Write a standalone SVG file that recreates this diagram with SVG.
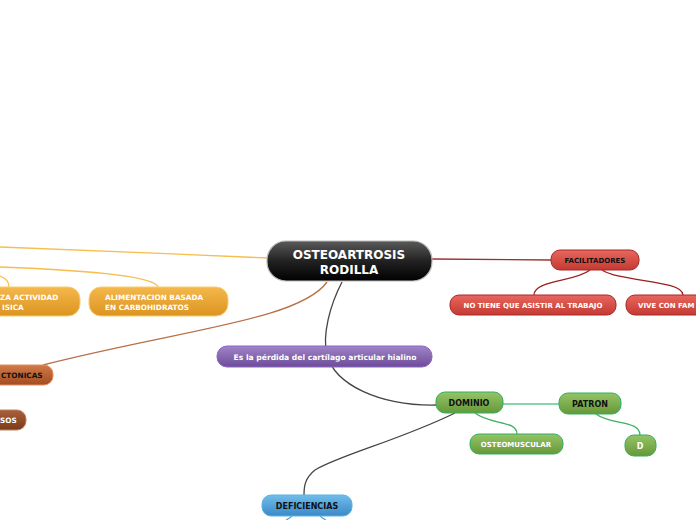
<svg xmlns="http://www.w3.org/2000/svg" width="696" height="520" viewBox="0 0 696 520">
<defs>
<linearGradient id="gBlack" x1="0" y1="0" x2="0" y2="1"><stop offset="0" stop-color="#5a5a5a"/><stop offset="0.5" stop-color="#222"/><stop offset="1" stop-color="#000"/></linearGradient>
<linearGradient id="gOrange" x1="0" y1="0" x2="0" y2="1"><stop offset="0" stop-color="#f4b84c"/><stop offset="1" stop-color="#dc9420"/></linearGradient>
<linearGradient id="gRed" x1="0" y1="0" x2="0" y2="1"><stop offset="0" stop-color="#e8675e"/><stop offset="1" stop-color="#c43a32"/></linearGradient>
<linearGradient id="gBrown" x1="0" y1="0" x2="0" y2="1"><stop offset="0" stop-color="#d07a48"/><stop offset="1" stop-color="#a44c22"/></linearGradient>
<linearGradient id="gBrown2" x1="0" y1="0" x2="0" y2="1"><stop offset="0" stop-color="#a8603a"/><stop offset="1" stop-color="#7a3c1a"/></linearGradient>
<linearGradient id="gPurple" x1="0" y1="0" x2="0" y2="1"><stop offset="0" stop-color="#a084c8"/><stop offset="1" stop-color="#6c4c98"/></linearGradient>
<linearGradient id="gGreen" x1="0" y1="0" x2="0" y2="1"><stop offset="0" stop-color="#94c466"/><stop offset="1" stop-color="#66983a"/></linearGradient>
<linearGradient id="gBlue" x1="0" y1="0" x2="0" y2="1"><stop offset="0" stop-color="#70bcea"/><stop offset="1" stop-color="#3a8ac8"/></linearGradient>
</defs>
<style>
text{font-family:"DejaVu Sans","Liberation Sans",sans-serif;font-weight:bold;}
.w{fill:#fff;}
.k{fill:#111;}
.c{text-anchor:middle;}
.e{fill:none;stroke-width:1.3;}
</style>
<rect width="696" height="520" fill="#fff"/>
<g id="connectors">
<path class="e" stroke="#f7bd4f" d="M267,258 C180,254 80,250 0,247"/>
<path class="e" stroke="#f7bd4f" d="M0,267 C80,270 155,276 158,287"/>
<path class="e" stroke="#f7bd4f" d="M0,276 C6,278 9,282 9,287"/>
<path class="e" stroke="#b87048" d="M327,282 C300,320 180,330 43,365"/>
<path class="e" stroke="#9a3030" d="M432,259 L551,260"/>
<path class="e" stroke="#9a2020" d="M590,270 C575,282 534,280 534,295"/>
<path class="e" stroke="#9a2020" d="M602,270 C620,282 683,280 683,295"/>
<path class="e" stroke="#444" d="M342,282 C330,305 322,335 327,355 C335,385 380,406 436,405"/>
<path class="e" stroke="#5ec890" d="M503,404 L559,404"/>
<path class="e" stroke="#40b060" d="M475,413 C490,425 517,420 517,434"/>
<path class="e" stroke="#40b060" d="M596,414 C610,425 640,420 640,435"/>
<path class="e" stroke="#444" d="M455,413 C400,440 340,455 315,470 C305,478 304,486 304,495"/>
<path class="e" stroke="#5aa8dc" d="M292,516 C290,518 288,519 286,520"/>
<path class="e" stroke="#5aa8dc" d="M320,516 C322,518 324,519 326,520"/>
</g>
<g id="n-central">
<rect x="267" y="241" width="165" height="40" rx="19" fill="url(#gBlack)" stroke="#bbb" stroke-width="1.2"/>
<text class="w c" x="349" y="259" font-size="12">OSTEOARTROSIS</text>
<text class="w c" x="349" y="274" font-size="12">RODILLA</text>
</g>
<g id="n-actividad">
<rect x="-30" y="287" width="110" height="29" rx="12" fill="url(#gOrange)" stroke="#f8cd70"/>
<text class="w" x="0" y="300" font-size="7.3">ZA ACTIVIDAD</text>
<text class="w" x="2" y="310" font-size="7.3">ISICA</text>
</g>
<g id="n-alimentacion">
<rect x="89" y="287" width="139" height="29" rx="12" fill="url(#gOrange)" stroke="#f8cd70"/>
<text class="w" x="105" y="300" font-size="7.3">ALIMENTACION BASADA</text>
<text class="w" x="105" y="310" font-size="7.3">EN CARBOHIDRATOS</text>
</g>
<g id="n-arquitectonicas">
<rect x="-40" y="365" width="93" height="20" rx="9" fill="url(#gBrown)" stroke="#e09060"/>
<text class="k" x="1" y="378" font-size="7.3">CTONICAS</text>
</g>
<g id="n-sos">
<rect x="-40" y="410" width="66" height="20" rx="9" fill="url(#gBrown2)" stroke="#c08060"/>
<text class="w" x="0" y="423" font-size="7.3">SOS</text>
</g>
<g id="n-facilitadores">
<rect x="551" y="250" width="88" height="20" rx="9" fill="url(#gRed)" stroke="#a82828"/>
<text class="k c" x="595" y="263" font-size="7">FACILITADORES</text>
</g>
<g id="n-trabajo">
<rect x="450" y="295" width="166" height="20" rx="9" fill="url(#gRed)" stroke="#a82828"/>
<text class="w c" x="533" y="308" font-size="7">NO TIENE QUE ASISTIR AL TRABAJO</text>
</g>
<g id="n-familia">
<rect x="626" y="295" width="110" height="20" rx="9" fill="url(#gRed)" stroke="#a82828"/>
<text class="w" x="638" y="308" font-size="7">VIVE CON FAM</text>
</g>
<g id="n-definicion">
<rect x="217" y="346" width="215" height="21" rx="10" fill="url(#gPurple)" stroke="#8e64c4"/>
<text class="w c" x="325" y="360" font-size="7.6">Es la pérdida del cartílago articular hialino</text>
</g>
<g id="n-dominio">
<rect x="436" y="392" width="67" height="21" rx="9" fill="url(#gGreen)" stroke="#30b060"/>
<text class="k c" x="469" y="406" font-size="8">DOMINIO</text>
</g>
<g id="n-patron">
<rect x="559" y="393" width="62" height="21" rx="9" fill="url(#gGreen)" stroke="#30b060"/>
<text class="k c" x="590" y="407" font-size="8">PATRON</text>
</g>
<g id="n-osteomuscular">
<rect x="470" y="434" width="93" height="20" rx="9" fill="url(#gGreen)" stroke="#30b060"/>
<text class="w c" x="516" y="447" font-size="7">OSTEOMUSCULAR</text>
</g>
<g id="n-d">
<rect x="625" y="435" width="31" height="21" rx="9" fill="url(#gGreen)" stroke="#30b060"/>
<text class="w c" x="640" y="449" font-size="8">D</text>
</g>
<g id="n-deficiencias">
<rect x="262" y="495" width="90" height="21" rx="9" fill="url(#gBlue)" stroke="#5ab4e4"/>
<text class="k c" x="307" y="509" font-size="8">DEFICIENCIAS</text>
</g>
</svg>
